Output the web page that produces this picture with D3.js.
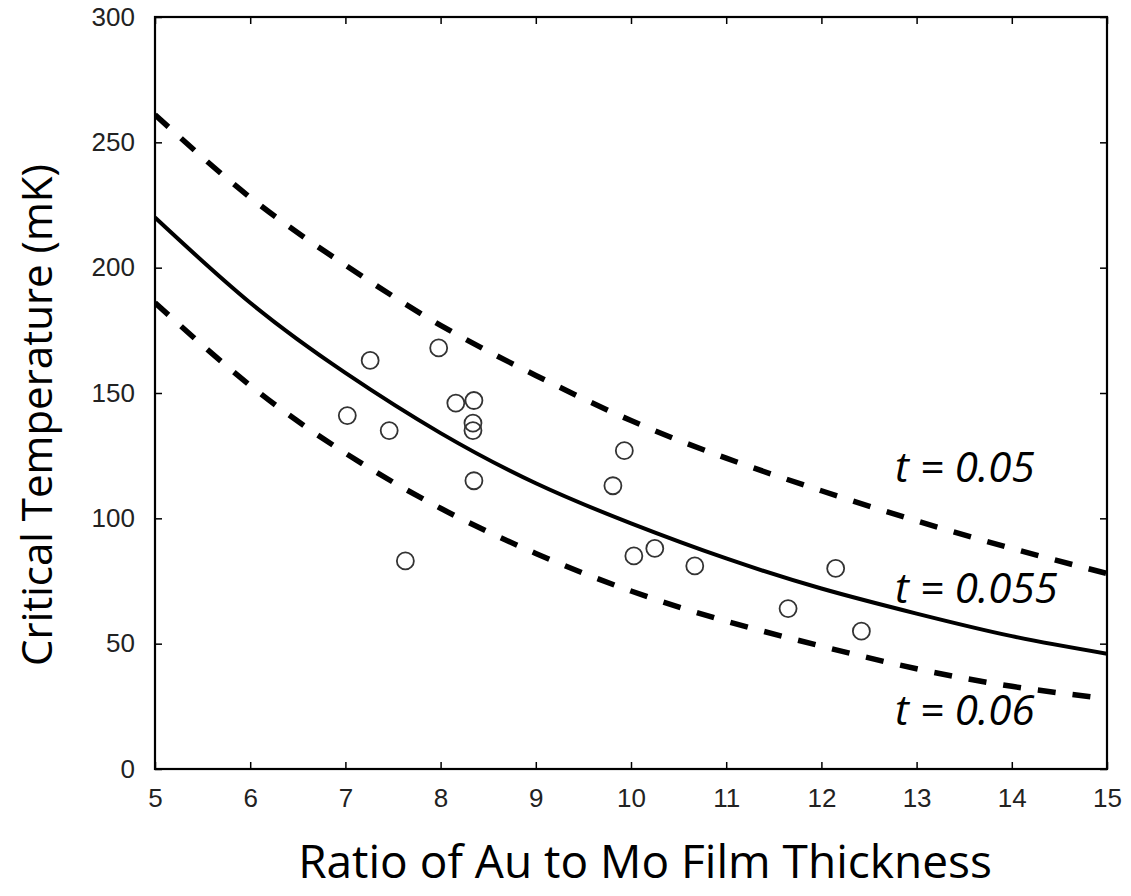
<!DOCTYPE html>
<html>
<head>
<meta charset="utf-8">
<script src="https://cdn.jsdelivr.net/npm/d3@7/dist/d3.min.js"></script>
<style>
  html, body { margin: 0; padding: 0; background: #fff; }
  svg { display: block; }
</style>
</head>
<body>
<script>
// ---- data ----
const xTickValues = [5, 6, 7, 8, 9, 10, 11, 12, 13, 14, 15];
const yTickValues = [0, 50, 100, 150, 200, 250, 300];
const curveRatio = [5, 6, 7, 8, 9, 10, 11, 12, 13, 14, 15];
const tc_t050 = [261, 228, 201, 177, 157, 139, 124, 111, 99, 88, 78];
const tc_t055 = [220, 186, 158, 134, 114, 98, 84, 72, 62, 53, 46];
const tc_t060 = [186, 153, 126, 104, 86, 71, 59, 49, 40, 33, 28];
const measRatio = [7.02, 7.26, 7.46, 7.63, 7.98, 8.16, 8.35, 8.34, 8.34, 8.35, 9.81, 9.93, 10.03, 10.25, 10.67, 11.65, 12.15, 12.42];
const measTc    = [141, 163, 135, 83, 168, 146, 147, 138, 135, 115, 113, 127, 85, 88, 81, 64, 80, 55];
const curveLabels = ["t = 0.05", "t = 0.055", "t = 0.06"];
const xTitle = "Ratio of Au to Mo Film Thickness";
const yTitle = "Critical Temperature (mK)";

// ---- layout ----
const W = 1131, H = 896;
const L = 155, T = 17, R = 1107, B = 769;

const svg = d3.select("body").append("svg").attr("width", W).attr("height", H);

const x = d3.scaleLinear().domain([5, 15]).range([L, R]);
const y = d3.scaleLinear().domain([0, 300]).range([B, T]);

svg.append("defs").append("clipPath").attr("id", "clip")
  .append("rect").attr("x", L).attr("y", T).attr("width", R - L).attr("height", B - T);

const tickFont = "'Liberation Sans', Arial, sans-serif";

// axes (ticks inward)
const axB = svg.append("g").attr("transform", `translate(0,${B})`)
  .call(d3.axisBottom(x).tickValues(xTickValues).tickSizeInner(-7).tickSizeOuter(0).tickPadding(20));
const axT = svg.append("g").attr("transform", `translate(0,${T})`)
  .call(d3.axisTop(x).tickValues(xTickValues).tickSizeInner(-7).tickSizeOuter(0).tickFormat(""));
const axL = svg.append("g").attr("transform", `translate(${L},0)`)
  .call(d3.axisLeft(y).tickValues(yTickValues).tickSizeInner(-7).tickSizeOuter(0).tickPadding(20));
const axR = svg.append("g").attr("transform", `translate(${R},0)`)
  .call(d3.axisRight(y).tickValues(yTickValues).tickSizeInner(-7).tickSizeOuter(0).tickFormat(""));

[axB, axT, axL, axR].forEach(g => {
  g.select(".domain").remove();
  g.selectAll(".tick line").attr("stroke", "#000").attr("stroke-width", 1.5);
  g.selectAll(".tick text").attr("font-family", tickFont).attr("font-size", 26).attr("fill", "#222");
});
axB.selectAll(".tick text").attr("dy", "0.71em");

// frame
svg.append("rect").attr("x", L).attr("y", T).attr("width", R - L).attr("height", B - T)
  .attr("fill", "none").attr("stroke", "#000").attr("stroke-width", 2.2);

const plot = svg.append("g").attr("clip-path", "url(#clip)");

const line = d3.line().x((d, i) => x(curveRatio[i])).y(d => y(d)).curve(d3.curveNatural);

plot.append("path").datum(tc_t050).attr("d", line)
  .attr("fill", "none").attr("stroke", "#000").attr("stroke-width", 5.5).attr("stroke-dasharray", "18,17");
plot.append("path").datum(tc_t060).attr("d", line)
  .attr("fill", "none").attr("stroke", "#000").attr("stroke-width", 5.5).attr("stroke-dasharray", "18,17");
plot.append("path").datum(tc_t055).attr("d", line)
  .attr("fill", "none").attr("stroke", "#000").attr("stroke-width", 4);

plot.selectAll("circle.m").data(measRatio).enter().append("circle")
  .attr("class", "m")
  .attr("cx", d => x(d))
  .attr("cy", (d, i) => y(measTc[i]))
  .attr("r", 8.5)
  .attr("fill", "none").attr("stroke", "#333").attr("stroke-width", 1.8);

// curve labels
const labelFont = "'Open Sans', 'Noto Sans', sans-serif";
const labelPos = [[895, 482], [895, 603], [895, 725]];
svg.selectAll("text.cl").data(curveLabels).enter().append("text")
  .attr("class", "cl")
  .attr("x", (d, i) => labelPos[i][0]).attr("y", (d, i) => labelPos[i][1])
  .attr("font-family", labelFont).attr("font-style", "italic").attr("font-size", 42)
  .attr("fill", "#000").text(d => d);

// axis titles
svg.append("text").attr("x", 645).attr("y", 878).attr("text-anchor", "middle")
  .attr("font-family", labelFont).attr("font-size", 46).attr("fill", "#000").text(xTitle);
svg.append("text").attr("transform", "translate(52,415) rotate(-90)").attr("text-anchor", "middle")
  .attr("font-family", labelFont).attr("font-size", 42).attr("fill", "#000").text(yTitle);
</script>
</body>
</html>
